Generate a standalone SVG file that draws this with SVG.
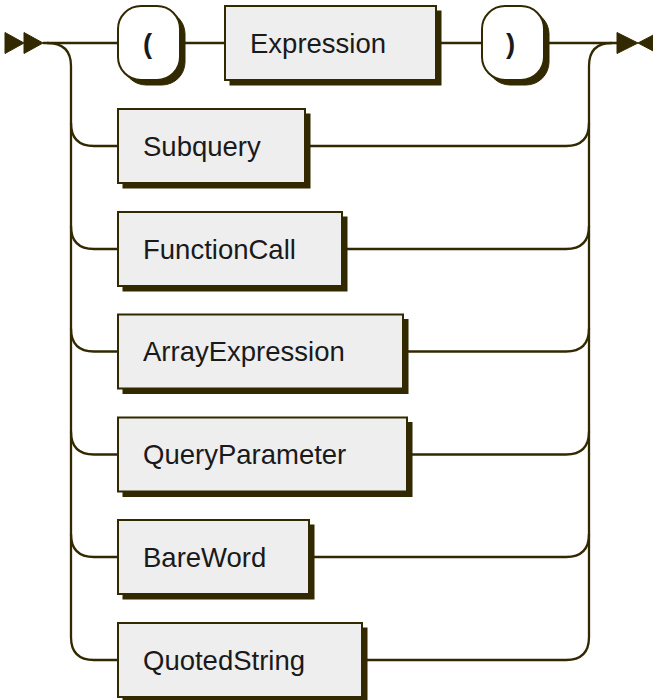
<svg xmlns="http://www.w3.org/2000/svg" width="653" height="700" viewBox="0 0 653 700">
<style>
.line{fill:none;stroke:#332900;stroke-width:2.3}
.arrow{fill:#332900;stroke:#332900;stroke-width:1}
.shadow{fill:#332900;stroke:#332900;stroke-width:1}
.nt{fill:#EEEEEE;stroke:#332900;stroke-width:2}
.t{fill:#FFFFFF;stroke:#332900;stroke-width:2}
text{font-family:"Liberation Sans",Arial,sans-serif;font-size:27.5px;fill:#1a1a1a}
text.term{font-weight:bold}
</style>
<rect width="653" height="700" fill="#FFFFFF"/>
<g id="connectors">
<polygon class="arrow" points="5,32.5 24,43 5,53.5"/>
<polygon class="arrow" points="24,32.5 43,43 24,53.5"/>
<polygon class="arrow" points="617,32.5 638,43 617,53.5"/>
<polygon class="arrow" points="658,32.5 638,43 658,53.5"/>
<path class="line" d="M43 43 H118 M180 43 H225 M436 43 H482 M544 43 H617"/>
<path class="line" d="M47 43 Q71 43 71 66 V637 Q71 660 94 660 H118"/>
<path class="line" d="M71 123 Q71 146 94 146 H118 M71 226 Q71 249 94 249 H118 M71 328.5 Q71 351.5 94 351.5 H118 M71 431.5 Q71 454.5 94 454.5 H118 M71 534 Q71 557 94 557 H118"/>
<path class="line" d="M589 637 V66 Q589 43 612 43"/>
<path class="line" d="M305 146 H566 Q589 146 589 123 M342 249 H566 Q589 249 589 226 M403 351.5 H566 Q589 351.5 589 328.5 M407 454.5 H566 Q589 454.5 589 431.5 M309 557 H566 Q589 557 589 534 M362 660 H566 Q589 660 589 637"/>
</g>
<g id="lparen">
<rect class="shadow" x="123" y="11" width="62" height="74" rx="23"/>
<rect class="t" x="118" y="6" width="62" height="74" rx="23"/>
<text class="term" x="143" y="52.5">(</text>
</g>
<g id="expression">
<rect class="shadow" x="230" y="11" width="211" height="74"/>
<rect class="nt" x="225" y="6" width="211" height="74"/>
<text x="250" y="52.5">Expression</text>
</g>
<g id="rparen">
<rect class="shadow" x="487" y="11" width="62" height="74" rx="23"/>
<rect class="t" x="482" y="6" width="62" height="74" rx="23"/>
<text class="term" x="506" y="52.5">)</text>
</g>
<g id="subquery">
<rect class="shadow" x="123" y="114" width="187" height="74"/>
<rect class="nt" x="118" y="109" width="187" height="74"/>
<text x="143" y="155.5">Subquery</text>
</g>
<g id="functioncall">
<rect class="shadow" x="123" y="217" width="224" height="74"/>
<rect class="nt" x="118" y="212" width="224" height="74"/>
<text x="143" y="258.5">FunctionCall</text>
</g>
<g id="arrayexpression">
<rect class="shadow" x="123" y="319.5" width="285" height="74"/>
<rect class="nt" x="118" y="314.5" width="285" height="74"/>
<text x="143" y="361">ArrayExpression</text>
</g>
<g id="queryparameter">
<rect class="shadow" x="123" y="422.5" width="289" height="74"/>
<rect class="nt" x="118" y="417.5" width="289" height="74"/>
<text x="143" y="464">QueryParameter</text>
</g>
<g id="bareword">
<rect class="shadow" x="123" y="525" width="191" height="74"/>
<rect class="nt" x="118" y="520" width="191" height="74"/>
<text x="143" y="566.5">BareWord</text>
</g>
<g id="quotedstring">
<rect class="shadow" x="123" y="628" width="244" height="74"/>
<rect class="nt" x="118" y="623" width="244" height="74"/>
<text x="143" y="669.5">QuotedString</text>
</g>
</svg>
